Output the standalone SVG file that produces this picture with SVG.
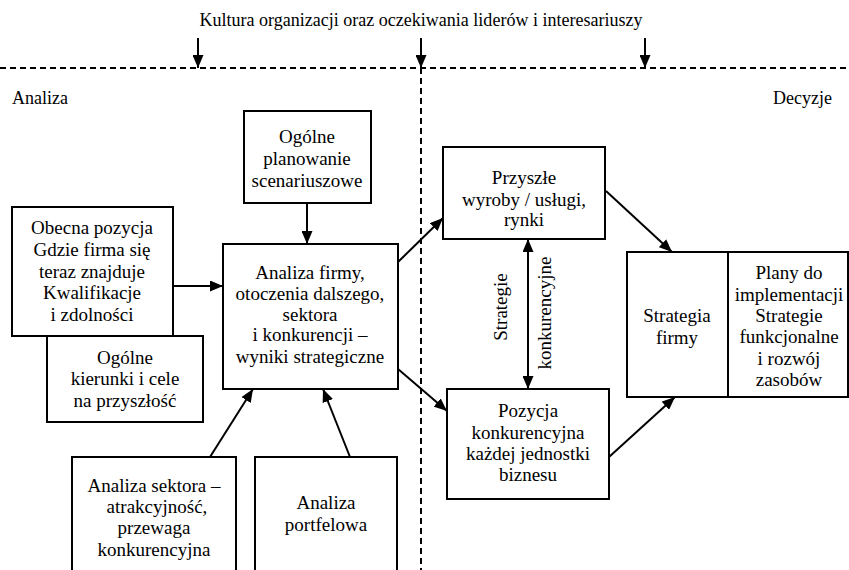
<svg xmlns="http://www.w3.org/2000/svg" width="849" height="570" viewBox="0 0 849 570" font-family="Liberation Serif, DejaVu Serif, serif">
<style>
.t{font-size:19px;text-anchor:middle;fill:#000}
.l{font-size:18px;fill:#000}
.b{fill:#fff;stroke:#000;stroke-width:2}
.c{stroke:#000;stroke-width:2;fill:none}
.d{stroke:#000;stroke-width:2;stroke-dasharray:6 4;fill:none}
</style>
<defs>
<marker id="ah" markerUnits="userSpaceOnUse" markerWidth="13" markerHeight="11" refX="13" refY="5.5" orient="auto-start-reverse">
<path d="M0,0 L13,5.5 L0,11 z" fill="#000"/>
</marker>
</defs>
<g id="frame">
<text class="t" x="421" y="26" textLength="443" lengthAdjust="spacingAndGlyphs">Kultura organizacji oraz oczekiwania liderów i interesariuszy</text>
<line class="d" x1="0" y1="68" x2="849" y2="68"/>
<line class="d" x1="421" y1="68" x2="421" y2="570"/>
<text class="l" x="12" y="104">Analiza</text>
<text class="l" x="832" y="104" text-anchor="end">Decyzje</text>
</g>
<g id="connectors">
<line class="c" x1="198" y1="38" x2="198" y2="68" marker-end="url(#ah)"/>
<line class="c" x1="421" y1="38" x2="421" y2="68" marker-end="url(#ah)"/>
<line class="c" x1="645" y1="38" x2="645" y2="68" marker-end="url(#ah)"/>
<line class="c" x1="307" y1="203" x2="307" y2="244" marker-end="url(#ah)"/>
<line class="c" x1="173" y1="286" x2="223" y2="286" marker-end="url(#ah)"/>
<line class="c" x1="210" y1="457" x2="253" y2="389" marker-end="url(#ah)"/>
<line class="c" x1="350" y1="457" x2="323" y2="389" marker-end="url(#ah)"/>
<line class="c" x1="398" y1="262" x2="443" y2="218" marker-end="url(#ah)"/>
<line class="c" x1="398" y1="369" x2="447" y2="411" marker-end="url(#ah)"/>
<line class="c" x1="528" y1="239" x2="528" y2="389" marker-start="url(#ah)" marker-end="url(#ah)"/>
<line class="c" x1="606" y1="191" x2="672" y2="252" marker-end="url(#ah)"/>
<line class="c" x1="609" y1="457" x2="675" y2="397" marker-end="url(#ah)"/>
<text class="t" transform="translate(507,307) rotate(-90)">Strategie</text>
<text class="t" transform="translate(551,313) rotate(-90)">konkurencyjne</text>
</g>
<g id="scenariusze">
<rect class="b" x="244" y="111" width="127" height="92"/>
<text class="t" x="307" y="143">Ogólne</text>
<text class="t" x="307" y="165">planowanie</text>
<text class="t" x="307" y="187">scenariuszowe</text>
</g>
<g id="obecna">
<rect class="b" x="12" y="207" width="161" height="129"/>
<text class="t" x="92" y="234">Obecna pozycja</text>
<text class="t" x="92" y="256">Gdzie firma się</text>
<text class="t" x="92" y="278">teraz znajduje</text>
<text class="t" x="92" y="299">Kwalifikacje</text>
<text class="t" x="92" y="321">i zdolności</text>
</g>
<g id="kierunki">
<rect class="b" x="47" y="336" width="156" height="86"/>
<text class="t" x="125" y="364">Ogólne</text>
<text class="t" x="125" y="385">kierunki i cele</text>
<text class="t" x="125" y="407">na przyszłość</text>
</g>
<g id="analiza">
<rect class="b" x="223" y="244" width="175" height="145"/>
<text class="t" x="310" y="279">Analiza firmy,</text>
<text class="t" x="310" y="300">otoczenia dalszego,</text>
<text class="t" x="310" y="321">sektora</text>
<text class="t" x="310" y="341">i konkurencji –</text>
<text class="t" x="310" y="363">wyniki strategiczne</text>
</g>
<g id="sektor">
<rect class="b" x="72" y="457" width="164" height="120"/>
<text class="t" x="154" y="492">Analiza sektora –</text>
<text class="t" x="157" y="513">atrakcyjność,</text>
<text class="t" x="154" y="534">przewaga</text>
<text class="t" x="154" y="556">konkurencyjna</text>
</g>
<g id="portfel">
<rect class="b" x="255" y="457" width="142" height="120"/>
<text class="t" x="326" y="509">Analiza</text>
<text class="t" x="326" y="531">portfelowa</text>
</g>
<g id="przyszle">
<rect class="b" x="443" y="147" width="162" height="92"/>
<text class="t" x="524" y="184">Przyszłe</text>
<text class="t" x="524" y="206">wyroby / usługi,</text>
<text class="t" x="524" y="226">rynki</text>
</g>
<g id="pozycja">
<rect class="b" x="447" y="389" width="162" height="110"/>
<text class="t" x="528" y="417">Pozycja</text>
<text class="t" x="528" y="439">konkurencyjna</text>
<text class="t" x="528" y="460">każdej jednostki</text>
<text class="t" x="528" y="481">biznesu</text>
</g>
<g id="strategia">
<rect class="b" x="627" y="252" width="221" height="145"/>
<line class="c" x1="728" y1="252" x2="728" y2="397"/>
<text class="t" x="677" y="322">Strategia</text>
<text class="t" x="677" y="344">firmy</text>
<text class="t" x="789" y="279">Plany do</text>
<text class="t" x="789" y="301">implementacji</text>
<text class="t" x="789" y="322">Strategie</text>
<text class="t" x="789" y="343">funkcjonalne</text>
<text class="t" x="789" y="365">i rozwój</text>
<text class="t" x="789" y="386">zasobów</text>
</g>
</svg>
